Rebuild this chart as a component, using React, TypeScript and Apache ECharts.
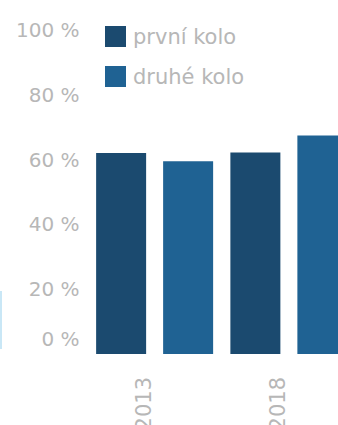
import React, { useEffect, useRef } from "react";
import * as echarts from "echarts";

const categories = ["2013", "2018"];
const seriesNames = ["první kolo", "druhé kolo"];
const prvniKolo = [62.0, 62.2];
const druheKolo = [59.5, 67.4];
const yMin = 0;
const yMax = 100;
const yStep = 20;

const FONT = "'DejaVu Sans', 'Open Sans', sans-serif";
const TEXT_COLOR = "#b7b7b7";
const DARK = "#1b4a6f";
const LIGHT = "#1f6293";

export default function App() {
  const ref = useRef<HTMLDivElement>(null);
  useEffect(() => {
    if (!ref.current) return;
    const chart = echarts.init(ref.current, null, { renderer: "svg" });
    chart.setOption({
      animation: false,
      backgroundColor: "#ffffff",
      textStyle: { fontFamily: FONT },
      grid: {
        left: 87.5,
        right: 0,
        top: 30,
        bottom: 71,
        containLabel: false,
        outerBoundsMode: "none",
      },
      legend: {
        orient: "vertical",
        left: 105,
        top: 26,
        padding: 0,
        itemWidth: 21,
        itemHeight: 21,
        itemGap: 19,
        icon: "rect",
        data: seriesNames,
        textStyle: { fontFamily: FONT, fontSize: 21, color: TEXT_COLOR, padding: [0, 0, 0, 2] },
      },
      xAxis: {
        type: "category",
        data: categories,
        axisLine: { show: false },
        axisTick: { show: false },
        axisLabel: {
          rotate: 90,
          margin: 23,
          verticalAlign: "bottom",
          fontFamily: FONT,
          fontSize: 21,
          color: TEXT_COLOR,
        },
      },
      yAxis: {
        type: "value",
        min: yMin,
        max: yMax,
        interval: yStep,
        axisLine: { show: false },
        axisTick: { show: false },
        splitLine: { show: false },
        axisLabel: {
          margin: 8,
          fontFamily: FONT,
          fontSize: 20,
          color: TEXT_COLOR,
          formatter: (v: number) => (v === 0 ? "{z|0 %}" : v + " %"),
          rich: {
            z: { fontFamily: FONT, fontSize: 20, color: TEXT_COLOR, padding: [0, 0, 30, 0] },
          },
        },
      },
      series: [
        {
          name: seriesNames[0],
          type: "bar",
          data: prvniKolo,
          barWidth: 50,
          barGap: "34%",
          itemStyle: { color: DARK },
        },
        {
          name: seriesNames[1],
          type: "bar",
          data: druheKolo,
          barWidth: 50,
          itemStyle: { color: LIGHT },
        },
      ],
      graphic: [
        {
          type: "rect",
          left: 0,
          top: 291,
          shape: { width: 2, height: 58 },
          style: { fill: "#c9e7f6" },
        },
      ],
    });
    return () => chart.dispose();
  }, []);
  return (
    <div
      style={{ position: "absolute", left: 0, top: 0, width: 338, height: 425, overflow: "hidden" }}
    >
      <div ref={ref} style={{ width: 356, height: 425 }} />
    </div>
  );
}
